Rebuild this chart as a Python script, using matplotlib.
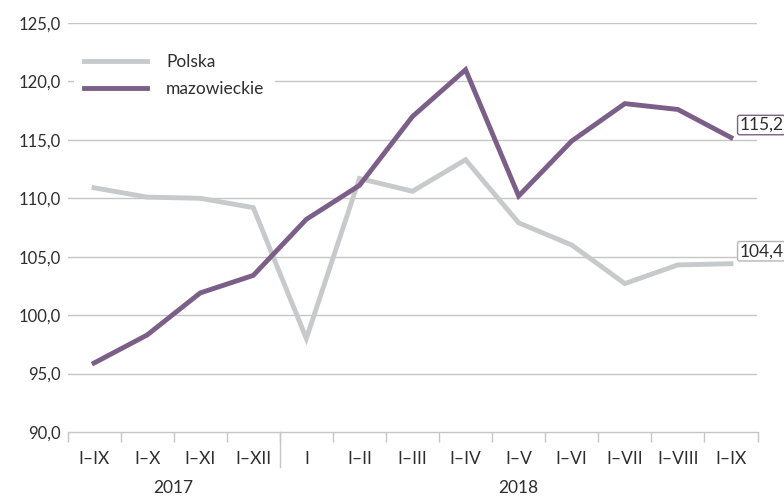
import matplotlib
matplotlib.use("Agg")
import matplotlib.pyplot as plt
from matplotlib.ticker import FuncFormatter

plt.rcParams['font.family'] = ['Lato', 'DejaVu Sans']

categories = ["I–IX", "I–X", "I–XI", "I–XII", "I", "I–II", "I–III", "I–IV",
              "I–V", "I–VI", "I–VII", "I–VIII", "I–IX"]
years = ["2017", "2018"]
year_counts = [4, 9]
polska = [110.9, 110.1, 110.0, 109.2, 98.0, 111.7, 110.6, 113.3, 107.9, 106.0, 102.7, 104.3, 104.4]
mazowieckie = [95.9, 98.3, 101.9, 103.4, 108.2, 111.1, 117.0, 121.0, 110.2, 114.9, 118.1, 117.6, 115.2]
yticks = [90, 95, 100, 105, 110, 115, 120, 125]

gray = "#c8c9cb"
purple = "#7c5f88"
text_c = "#2e2e2e"
fs = 12.5

fig = plt.figure(figsize=(7.84, 4.98), dpi=100)
ax = fig.add_axes([67.5/784, 1-432/498, 690/784, 409/498])

x = list(range(len(categories)))
ax.plot(x, polska, color=gray, lw=3.5, solid_joinstyle='miter', label="Polska", zorder=3)
ax.plot(x, mazowieckie, color=purple, lw=3.5, solid_joinstyle='miter', label="mazowieckie", zorder=4)

ax.set_xlim(-0.5, len(categories) - 0.5)
ax.set_ylim(90, 125)
ax.set_yticks(yticks)
ax.yaxis.set_major_formatter(FuncFormatter(lambda v, p: f"{v:.1f}".replace(".", ",")))
ax.tick_params(axis='y', length=0, pad=5, labelsize=12, labelcolor=text_c)
for y in yticks[1:]:
    ax.axhline(y, color="#c6c6c6", lw=1.0, zorder=1)

for s in ["top", "right", "left"]:
    ax.spines[s].set_visible(False)
ax.spines["bottom"].set_color("#c6c6c6")
ax.spines["bottom"].set_linewidth(1.0)

# category ticks (boundaries)
ax.set_xticks([i - 0.5 for i in range(len(categories) + 1)])
ax.set_xticklabels([])
ax.tick_params(axis='x', length=7, color="#c6c6c6", width=1.0)
ax.set_xticks(x, minor=True)
ax.set_xticklabels(categories, minor=True)
ax.tick_params(axis='x', which='minor', length=0, pad=14, labelsize=fs, labelcolor=text_c)

# year separator and labels
start = 0
for yr, n in zip(years, year_counts):
    ax.text(start + n / 2 - 0.5, -0.137, yr, transform=ax.get_xaxis_transform(),
            ha='center', va='center', fontsize=fs, color=text_c)
    start += n
ax.plot([year_counts[0] - 0.5] * 2, [0, -0.085], transform=ax.get_xaxis_transform(),
        color="#c6c6c6", lw=1.0, clip_on=False)

# end labels
for series, col in [(mazowieckie, purple), (polska, "#b5b5b5")]:
    v = series[-1]
    ax.annotate(f"{v:.1f}".replace(".", ","), (x[-1], v), xytext=(6, 9),
                textcoords='offset points', ha='left', va='center', fontsize=fs,
                color=text_c, annotation_clip=False,
                bbox=dict(boxstyle='round,pad=0.1,rounding_size=0.12', fc='white', ec=col, lw=1.0))

leg = ax.legend(loc='upper left', bbox_to_anchor=(74/784, 1-44/498),
                bbox_transform=fig.transFigure, fontsize=fs, handlelength=3.6,
                handletextpad=1.1, labelspacing=0.6, borderpad=0.6, borderaxespad=0,
                frameon=True, fancybox=False)
leg.get_frame().set_facecolor('white')
leg.get_frame().set_edgecolor('none')
leg.get_frame().set_alpha(1.0)
for t in leg.get_texts():
    t.set_color(text_c)

fig.savefig("out.png", dpi=100)
